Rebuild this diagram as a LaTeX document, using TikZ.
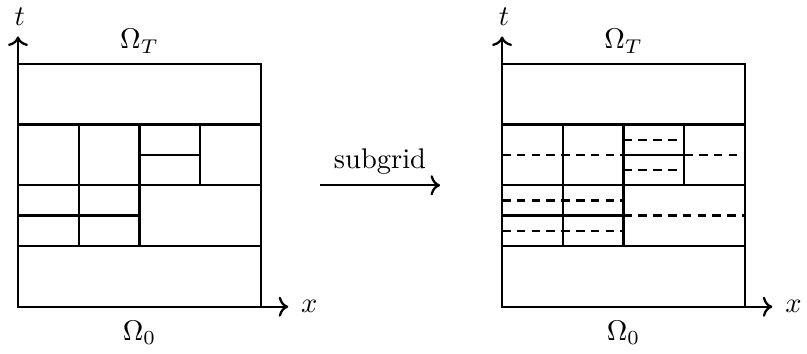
\documentclass[tikz,border=0pt]{standalone}
\usetikzlibrary{arrows.meta,positioning}

\begin{document}
\begin{tikzpicture}[x=0.75cm,y=0.75cm,ln/.style={line width=0.8pt},dl/.style={ln,dash pattern=on 3pt off 2.2pt},arr/.style={ln,-{To}}]
\useasboundingbox (-0.296,-0.774) rectangle (12.99,5.05);
\foreach \ox/\nm in {0/l,7.97/r}
 {\begin{scope}[shift={(\ox,0)}]
  \coordinate (\nm o) at (0,0);
  \coordinate (\nm t) at (0,4.45);
  \coordinate (\nm x) at (4.45,0);
  \draw[ln] (0,0) rectangle (4,4);
  \draw[ln] (0,1)--(4,1) (0,2)--(4,2) (0,3)--(4,3);
  \draw[ln] (1,2)--(1,3) (2,2)--(2,3) (3,2)--(3,3) (2,2.5)--(3,2.5);
  \draw[ln] (1,1)--(1,2) (2,1)--(2,2) (0,1.5)--(2,1.5);
  \draw[arr] (\nm o)--(\nm t);
  \draw[arr] (\nm o)--(\nm x);
  \node (\nm tl) at (0.03,4.78) {$t$};
  \node[right=1pt of \nm x] (\nm xl) {$x$};
  \node (\nm top) at (2,4.37) {$\Omega_T$};
  \node (\nm bot) at (2,-0.43) {$\Omega_0$};
  \end{scope}}
% refined cells
\begin{scope}[shift={(7.97,0)}]
\draw[dl] (0,2.5)--(2,2.5) (3,2.5)--(4,2.5) (2,2.25)--(3,2.25) (2,2.75)--(3,2.75);
\draw[dl] (0,1.25)--(2,1.25) (0,1.75)--(2,1.75) (2,1.5)--(4,1.5);
\end{scope}
\coordinate (sa) at (4.97,2);
\coordinate (sb) at (6.95,2);
\draw[arr] (sa)--node[above=0pt] (sg) {subgrid}(sb);
\end{tikzpicture}
\end{document}
